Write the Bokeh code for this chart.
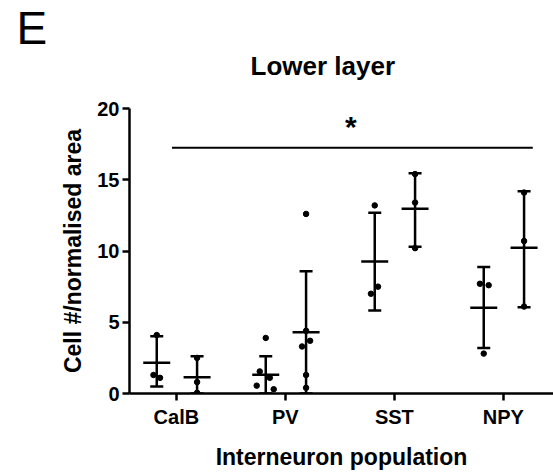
from bokeh.plotting import figure
from bokeh.models import Range1d, FixedTicker, Title
from bokeh.core.properties import value
from bokeh.embed import file_html
from bokeh.resources import INLINE

# ---------------- data ----------------
categories = ["CalB", "PV", "SST", "NPY"]
sub_offsets = [-0.18, 0.19]          # two sub-groups per category

# per sub-group (CalB a/b, PV a/b, SST a/b, NPY a/b)
means = [2.15, 1.14, 1.31, 4.30, 9.26, 12.96, 6.01, 10.22]
upper = [4.02, 2.62, 2.62, 8.58, 12.68, 15.46, 8.87, 14.20]
lower = [0.49, 0.00, 0.00, 0.00, 5.82, 10.30, 3.20, 6.06]

points = [
    [4.1, 1.3, 1.1],
    [2.5, 0.8, 0.05],
    [3.9, 1.55, 1.1, 0.55, 0.3],
    [12.6, 4.4, 3.7, 3.3, 1.3, 0.4],
    [13.2, 7.5, 7.0],
    [15.4, 13.4, 10.2],
    [7.7, 7.6, 2.8],
    [14.1, 10.7, 6.1],
]
jitter = [
    [0.0, -0.03, 0.03],
    [0.0, 0.0, 0.0],
    [0.0, -0.055, 0.037, -0.083, 0.073],
    [0.0, 0.0, 0.037, -0.037, 0.0, 0.0],
    [0.0, 0.03, -0.035],
    [0.0, 0.0, 0.0],
    [-0.035, 0.045, 0.0],
    [0.0, 0.0, 0.0],
]

sig_start, sig_end, sig_y = 0.96, 4.27, 17.24
star_x, star_y = 2.6, 18.75

y_ticks = [0, 5, 10, 15, 20]

FONT = "Liberation Sans"

# ---------------- figure ----------------
p = figure(width=553, height=473, frame_width=424, frame_height=285,
           output_backend="svg", toolbar_location=None,
           x_range=Range1d(0.57, 4.46), y_range=Range1d(0, 20),
           min_border_left=129, min_border_right=0,
           min_border_top=108, min_border_bottom=80)
p.outline_line_color = None
p.grid.visible = False
p.background_fill_color = "white"
p.border_fill_color = "white"

# group x positions
gx = []
for ci, _ in enumerate(categories):
    for off in sub_offsets:
        gx.append(ci + 1 + off)

# error bars
p.segment(x0=gx, y0=lower, x1=gx, y1=upper, line_color="black", line_width=2.5)
p.scatter(x=gx, y=upper, marker="dash", size=13, line_color="black", line_width=2.5)
p.scatter(x=gx, y=lower, marker="dash", size=13, line_color="black", line_width=2.5)
p.scatter(x=gx, y=means, marker="dash", size=27, line_color="black", line_width=2.5)

# points
px, py = [], []
for g, vals in enumerate(points):
    for v, j in zip(vals, jitter[g]):
        px.append(gx[g] + j)
        py.append(v)
p.scatter(x=px, y=py, size=5.5, color="black")

# significance
p.segment(x0=[sig_start], y0=[sig_y], x1=[sig_end], y1=[sig_y], line_color="black", line_width=2)
p.text(x=[star_x], y=[star_y], text=["*"], text_font=value(FONT), text_font_style="bold",
       text_font_size="30px", text_align="center", text_baseline="middle", text_color="black")

# axes
for ax in (p.xaxis[0], p.yaxis[0]):
    ax.axis_line_width = 2.5
    ax.axis_line_color = "black"
    ax.major_tick_line_width = 2.5
    ax.major_tick_line_color = "black"
    ax.major_tick_in = 0
    ax.major_tick_out = 7
    ax.minor_tick_line_color = None
    ax.major_label_text_font = FONT
    ax.major_label_text_font_style = "bold"
    ax.major_label_text_font_size = "20px"
    ax.major_label_text_color = "black"
    ax.axis_label_text_font = FONT
    ax.axis_label_text_font_style = "bold"
    ax.axis_label_text_font_size = "23px"
    ax.axis_label_text_color = "black"

p.xaxis[0].ticker = FixedTicker(ticks=[i + 1 for i in range(len(categories))])
p.xaxis[0].major_label_overrides = {i + 1: c for i, c in enumerate(categories)}
p.xaxis[0].major_label_standoff = 5
p.xaxis[0].axis_label = "Interneuron population"
p.xaxis[0].axis_label_standoff = 13

p.yaxis[0].ticker = FixedTicker(ticks=y_ticks)
p.yaxis[0].major_label_standoff = 3
p.yaxis[0].axis_label = "Cell #/normalised area"
p.yaxis[0].axis_label_standoff = 8

# titles (stacked outward from the frame: spacer, "Lower layer", "E")
p.add_layout(Title(text=" ", text_font=FONT, text_font_size="10px", standoff=11,
                   text_color="white"), "above")
p.add_layout(Title(text="Lower layer", text_font=FONT, text_font_style="bold",
                   text_font_size="26px", align="left", offset=121, standoff=4,
                   vertical_align="top", text_color="black"), "above")
p.add_layout(Title(text="E", text_font=FONT, text_font_style="normal",
                   text_font_size="46px", align="left", offset=-113, standoff=-10,
                   text_color="black"), "above")

open("out.html", "w").write(file_html(p, INLINE))
